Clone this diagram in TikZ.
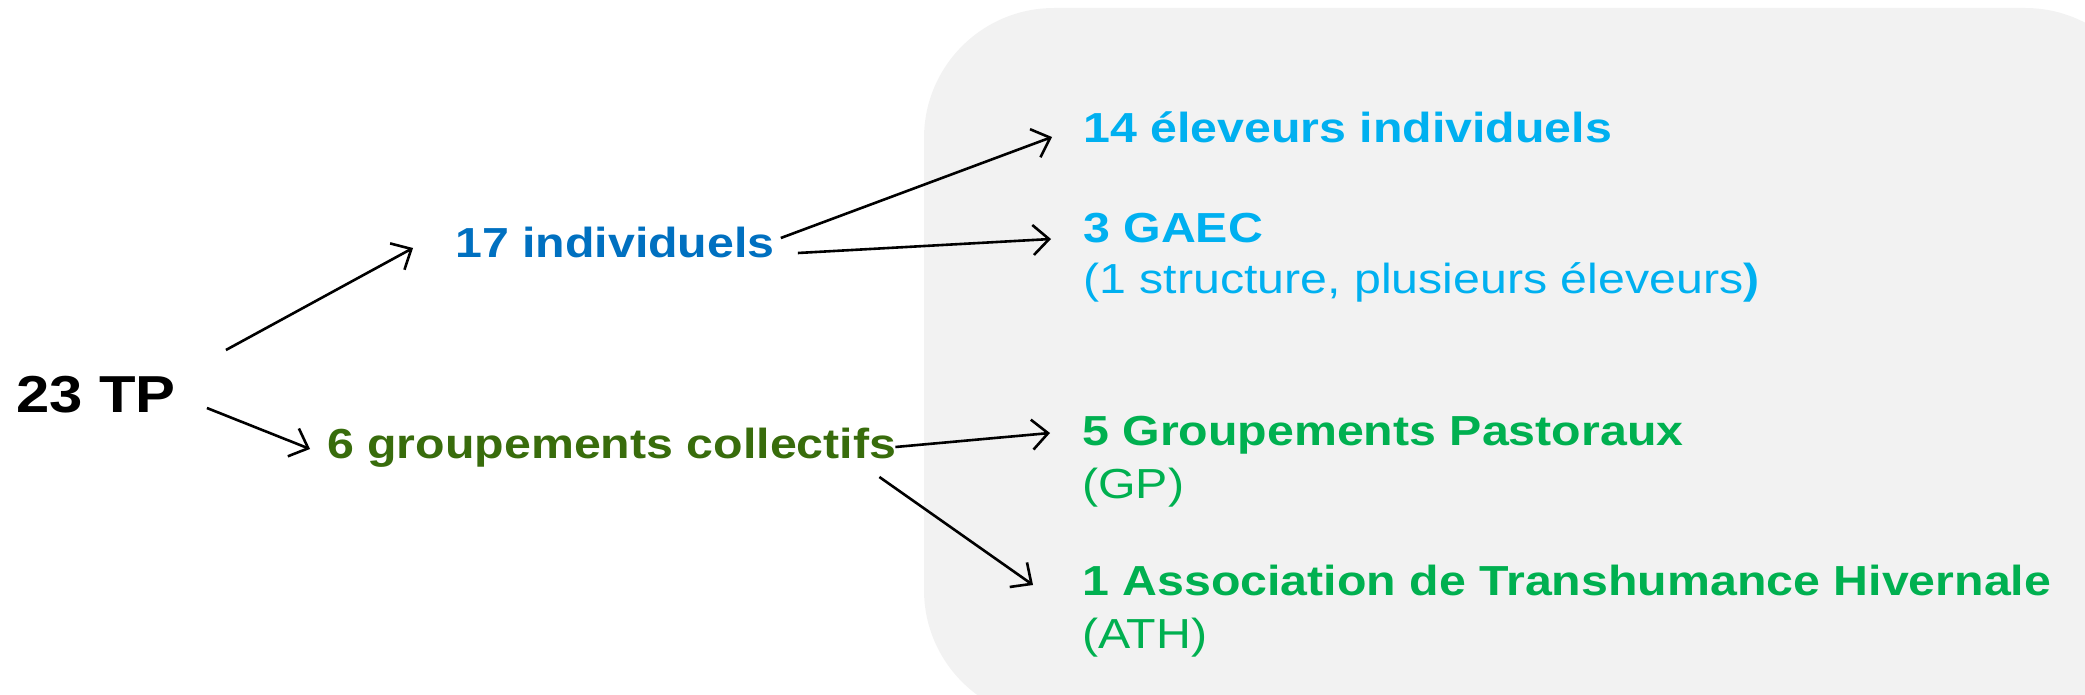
\documentclass[tikz,border=0pt]{standalone}
\usepackage{fontspec}
\setmainfont{Liberation Sans}[FakeStretch=1.15]
\usetikzlibrary{arrows.meta}
\definecolor{indivblue}{RGB}{0,112,192}
\definecolor{collgreen}{RGB}{56,108,12}
\definecolor{lightblue}{RGB}{0,176,240}
\definecolor{lightgreen}{RGB}{0,176,80}
\definecolor{boxgray}{RGB}{242,242,242}

\begin{document}
\begin{tikzpicture}[x=1pt, y=-1pt,
  lbl/.style={inner sep=0pt, anchor=base west, font=\fontsize{42pt}{50pt}\selectfont\bfseries},
  sub/.style={lbl, font=\fontsize{42pt}{50pt}\selectfont},
  arr/.style={line width=2.6pt, -{Straight Barb[length=16pt,width=30pt]}}]
  \useasboundingbox (0, 0) rectangle (2085, 695);
  \fill [boxgray, rounded corners=130pt] (924, 8) rectangle (2155, 720);

  \node [lbl, font=\fontsize{52pt}{60pt}\selectfont\bfseries] (tp) at (16, 412) {23 TP};
  \node [lbl, indivblue] (indiv) at (455, 258) {17 individuels};
  \node [lbl, collgreen] (coll) at (327, 458) {6 groupements collectifs};

  \node [lbl, lightblue] (elev) at (1083, 143) {14 éleveurs individuels};
  \node [lbl, lightblue] (gaec) at (1083, 243) {3 GAEC};
  \node [sub, lightblue] (gaecnote) at (1083, 293) {(1 structure, plusieurs éleveurs\textbf{)}};
  \node [lbl, lightgreen] (gp) at (1082, 445) {5 Groupements Pastoraux};
  \node [sub, lightgreen] (gpnote) at (1082, 498) {(GP)};
  \node [lbl, lightgreen] (ath) at (1082, 595) {1 Association de Transhumance Hivernale};
  \node [sub, lightgreen] (athnote) at (1082, 648) {(ATH)};

  \draw [arr] ([shift={(50,-62)}]tp.base east) -- ([shift={(-42,-10)}]indiv.base west);
  \draw [arr] ([shift={(31,-4)}]tp.base east) -- ([shift={(-17,-9)}]coll.base west);
  \draw [arr] ([shift={(6,-20)}]indiv.base east) -- ([shift={(-31,-6)}]elev.base west);
  \draw [arr] ([shift={(23,-5)}]indiv.base east) -- ([shift={(-32,-4)}]gaec.base west);
  \draw [arr] ([shift={(-1,-11)}]coll.base east) -- ([shift={(-32,-12)}]gp.base west);
  \draw [arr] ([shift={(-17,19)}]coll.base east) -- ([shift={(-49,-10)}]ath.base west);
\end{tikzpicture}
\end{document}
